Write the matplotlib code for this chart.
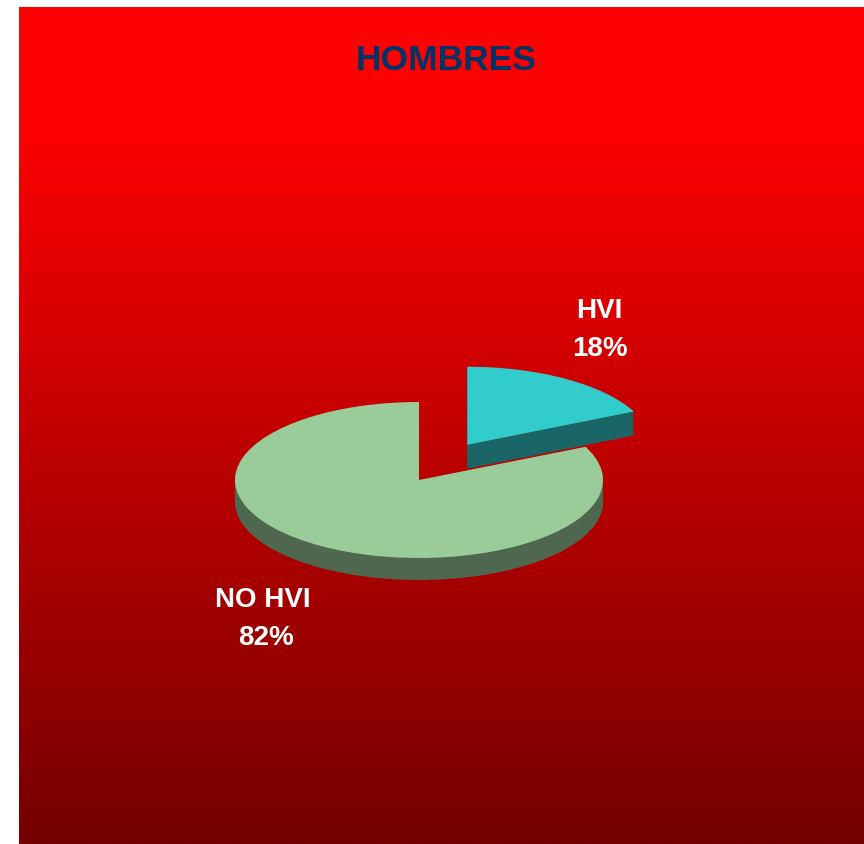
import numpy as np
import matplotlib
matplotlib.use('Agg')
import matplotlib.pyplot as plt
from matplotlib.colors import LinearSegmentedColormap

# Chart data
labels = ['HVI', 'NO HVI']
values = [18, 82]
title = 'HOMBRES'

# Colours, top face and side wall of each slice
top_colors = ['#33CCCC', '#99CC99']
side_colors = ['#1A6666', '#4F664F']

WIDTH, HEIGHT = 864, 844
plt.rcParams['font.family'] = ['Liberation Sans', 'DejaVu Sans']

fig = plt.figure(figsize=(WIDTH / 100, HEIGHT / 100), dpi=100, facecolor='white')

# Background panel with vertical red gradient
bg = fig.add_axes([19 / WIDTH, 0, 1 - 19 / WIDTH, 1 - 7 / HEIGHT])
cmap = LinearSegmentedColormap.from_list('panel', [(0, '#FF0000'), (0.13, '#FF0000'), (1, '#740000')])
bg.imshow(np.linspace(0, 1, 512).reshape(-1, 1), aspect='auto', cmap=cmap, vmin=0, vmax=1)
bg.axis('off')

# Pie axes: squash the unit circle into an ellipse (184 x 78 px) centred at (419, 480)
rx, ry = 184, 78
cx, cy = 419, 480
ax = fig.add_axes([0, 0, 1, 1])
ax.patch.set_alpha(0)


def draw_slice(index, depth, explode, lift=0):
    # stack copies downwards for the side wall, then the top face
    only = lambda c: ['none' if i != index else c for i in range(len(values))]
    expl = [explode if i == index else 0 for i in range(len(values))]
    for step in range(depth, 0, -1):
        ax.pie(values, colors=only(side_colors[index]), explode=expl, startangle=90,
               counterclock=False, center=(0, (lift - step) / ry), wedgeprops={'linewidth': 0})
    ax.pie(values, colors=only(top_colors[index]), explode=expl, startangle=90,
           counterclock=False, center=(0, lift / ry), wedgeprops={'linewidth': 0})


draw_slice(1, 22, 0)
draw_slice(0, 24, 0.49, lift=3)

ax.set_aspect('auto')
ax.set_xlim(-cx / rx, (WIDTH - cx) / rx)
ax.set_ylim(-(HEIGHT - cy) / ry, cy / ry)
ax.axis('off')


def put_text(x, y, s, color, size):
    # x centre and text baseline given in image pixels
    fig.text(x / WIDTH, 1 - y / HEIGHT, s, color=color, fontsize=size,
             fontweight='bold', ha='center', va='baseline')


put_text(446, 69.5, title, '#003366', 25.5)

# Data labels: name line and percent line
label_pos = [(599.5, 318, 600.5, 356), (263, 607, 266, 645)]
for name, val, (x1, y1, x2, y2) in zip(labels, values, label_pos):
    put_text(x1, y1, name, 'white', 20)
    put_text(x2, y2, f'{val}%', 'white', 20)

fig.savefig('out.png', dpi=100, facecolor='white')
